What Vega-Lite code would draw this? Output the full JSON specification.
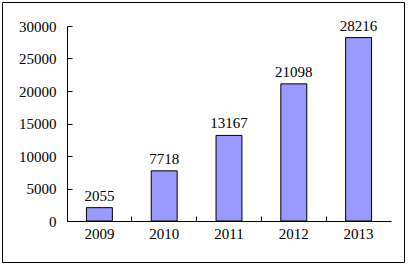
{
  "$schema": "https://vega.github.io/schema/vega-lite/v6.json",
  "autosize": "none",
  "width": 402,
  "height": 260,
  "padding": {"left": 2, "top": 2, "right": 6, "bottom": 2},
  "background": "white",
  "config": {
    "view": {"stroke": "black", "strokeWidth": 1},
    "font": "Liberation Serif",
    "axis": {"labelFont": "Liberation Serif", "labelFontSize": 15, "labelColor": "black", "domainColor": "black", "tickColor": "black", "grid": false, "title": null}
  },
  "data": {"values": [
    {"year": "2009", "value": 2055},
    {"year": "2010", "value": 7718},
    {"year": "2011", "value": 13167},
    {"year": "2012", "value": 21098},
    {"year": "2013", "value": 28216}
  ]},
  "encoding": {
    "x": {"field": "year", "type": "nominal",
      "scale": {"range": [65, 389], "paddingInner": 0, "paddingOuter": 0},
      "axis": {"labelAngle": 0, "offset": -41, "tickSize": -5, "bandPosition": 0, "tickExtra": true, "labelPadding": 10}},
    "y": {"field": "value", "type": "quantitative",
      "scale": {"domain": [0, 30000], "range": [219, 24], "nice": false, "zero": true},
      "axis": {"values": [0, 5000, 10000, 15000, 20000, 25000, 30000], "format": "d", "offset": -65, "tickSize": -5, "labelPadding": 16}}
  },
  "layer": [
    {"mark": {"type": "bar", "width": {"band": 0.4}, "fill": "#9999FF", "stroke": "black", "strokeWidth": 1}},
    {"mark": {"type": "text", "baseline": "alphabetic", "dy": -7, "fontSize": 15, "color": "black", "font": "Liberation Serif"},
     "encoding": {"text": {"field": "value", "type": "quantitative", "format": "d"}}}
  ]
}
